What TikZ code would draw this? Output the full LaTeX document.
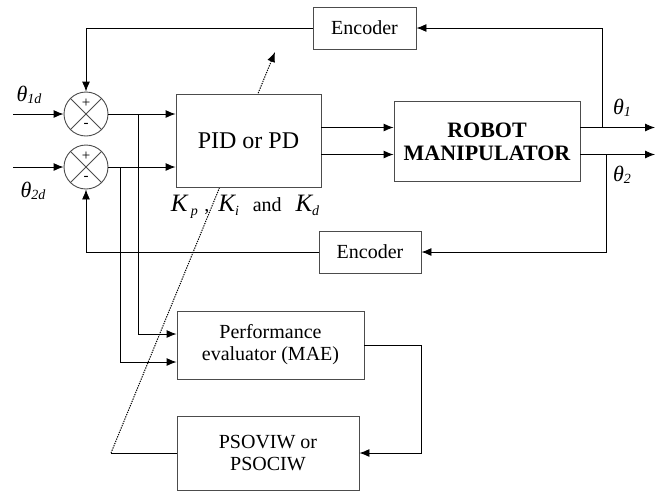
\documentclass[tikz,border=0pt]{standalone}
\usepackage{fontspec}
\setmainfont{Liberation Serif}
\usetikzlibrary{arrows.meta}
\newcommand{\lsub}[1]{\raisebox{-0.5ex}{\fontsize{14}{14}\selectfont\itshape #1}}
\newcommand{\thlab}[1]{{\fontsize{22}{22}\selectfont\itshape θ}\lsub{#1}}
\newcommand{\gainK}{{\fontsize{25}{25}\selectfont\itshape K}}

\begin{document}
\begin{tikzpicture}[x=1pt,y=-1pt,>={Latex[length=10pt,width=8pt]},line width=0.9pt,
  block/.style={draw=black!70,fill=white,align=center,font=\fontsize{20}{22}\selectfont},
  sumnode/.style={draw=black!70,circle,fill=white,minimum size=44pt,inner sep=0pt},
  sign/.style={font=\fontsize{15}{15}\selectfont,inner sep=0pt}]
\useasboundingbox (0,0) rectangle (671,491);
\coordinate (in1) at (13,114);
\coordinate (in2) at (13,167);
\coordinate (br1) at (138,114);
\coordinate (br2) at (120,167);
\coordinate (th1) at (655,127.5);
\coordinate (th2) at (655,154.5);
\coordinate (tap1) at (602,127.5);
\coordinate (tap2) at (606,154.5);
\coordinate (tune) at (111,453);
\coordinate (tip) at (275,52);
\draw[line width=1pt,dash pattern=on 1.3pt off 1.1pt,->] (tune) -- (tip);
\node[block,minimum width=103pt,minimum height=42pt] (enc1) at (364.5,28) {Encoder};
\node[block,minimum width=102pt,minimum height=42pt] (enc2) at (370,252) {Encoder};
\node[sumnode] (s1) at (86,114) {};
\node[sumnode] (s2) at (86,167) {};
\node[block,minimum width=145pt,minimum height=93pt,font=\fontsize{24}{26}\selectfont] (pid) at (248.5,140.5) {PID or PD};
\node[block,minimum width=186pt,minimum height=80pt,font=\fontsize{22}{23}\selectfont\bfseries] (robot) at (487,141.5) {ROBOT\\MANIPULATOR};
\node[block,minimum width=187pt,minimum height=68pt] (perf) at (270.5,345) {Performance\\evaluator (MAE)};
\node[block,minimum width=182pt,minimum height=74pt] (pso) at (268,453) {PSOVIW or\\PSOCIW};
\draw[black!70] (s1.45) -- (s1.225) (s1.135) -- (s1.315);
\draw[black!70] (s2.45) -- (s2.225) (s2.135) -- (s2.315);
\node[sign] (s1p) at ([yshift=11pt]s1.center) {+};
\node[sign] (s1m) at ([yshift=-11pt]s1.center) {-};
\node[sign] (s2p) at ([yshift=11pt]s2.center) {+};
\node[sign] (s2m) at ([yshift=-11pt]s2.center) {-};
\node (th1d) at (29,95) {\thlab{1d}};
\node (th2d) at (33,191) {\thlab{2d}};
\node (th1l) at (622,108) {\thlab{1}};
\node (th2l) at (622,175) {\thlab{2}};
\node[font=\fontsize{20}{22}\selectfont] (gains) at (245,207) {\gainK\,\lsub{p}\,\,,\;\,\gainK\lsub{i}\;\, and\;\, \gainK\lsub{d}};
\draw[->] (in1) -- (s1.west);
\draw[->] (in2) -- (s2.west);
\draw[->] (s1.east) -- (s1.east -| pid.west);
\draw[->] (s2.east) -- (s2.east -| pid.west);
\draw[->] (br1) |- ([yshift=11pt]perf.west);
\draw[->] (br2) |- ([yshift=-17pt]perf.west);
\draw[->] (pid.east |- th1) -- (robot.west |- th1);
\draw[->] (pid.east |- th2) -- (robot.west |- th2);
\draw[->] (robot.east |- th1) -- (th1);
\draw[->] (robot.east |- th2) -- (th2);
\draw[->] (tap1) |- (enc1.east);
\draw[->] (enc1.west) -| (s1.north);
\draw[->] (tap2) |- (enc2.east);
\draw[->] (enc2.west) -| (s2.south);
\draw[->] (perf.east) -- ++(57,0) |- (pso.east);
\draw (pso.west) -- (tune);
\end{tikzpicture}
\end{document}
